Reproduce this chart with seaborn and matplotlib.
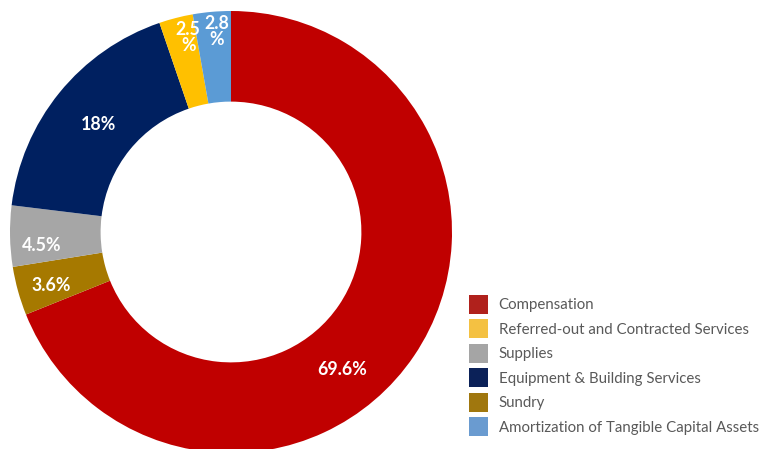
import numpy as np
import matplotlib
matplotlib.use("Agg")
import matplotlib.pyplot as plt
from matplotlib.patches import Patch
import seaborn as sns

# Expense categories, in the order they run clockwise from 12 o'clock
categories = [
    "Compensation",
    "Sundry",
    "Supplies",
    "Equipment & Building Services",
    "Referred-out and Contracted Services",
    "Amortization of Tangible Capital Assets",
]
shares = [69.6, 3.6, 4.5, 18, 2.5, 2.8]
value_labels = ["69.6%", "3.6%", "4.5%", "18%", "2.5\n%", "2.8\n%"]

# Legend lists the categories in a different order
legend_order = [
    "Compensation",
    "Referred-out and Contracted Services",
    "Supplies",
    "Equipment & Building Services",
    "Sundry",
    "Amortization of Tangible Capital Assets",
]

wedge_colors = {
    "Compensation": "#C00000",
    "Sundry": "#A67900",
    "Supplies": "#A6A6A6",
    "Equipment & Building Services": "#002060",
    "Referred-out and Contracted Services": "#FFC000",
    "Amortization of Tangible Capital Assets": "#5B9BD5",
}
swatch_colors = {
    "Compensation": "#B0211C",
    "Sundry": "#A0770E",
    "Supplies": "#A5A5A5",
    "Equipment & Building Services": "#0B2158",
    "Referred-out and Contracted Services": "#F4C142",
    "Amortization of Tangible Capital Assets": "#6A9BD0",
}

# Label placement: radial distance (fraction of outer radius) and angular nudge (deg)
label_radius = [0.80, 0.85, 0.86, 0.77, 0.90, 0.91]
label_nudge = [-17, 1, 3, 0, -2, -1]

sns.set_theme(style="white")
plt.rcParams["font.family"] = ["Lato", "DejaVu Sans"]

W, H = 759, 449
fig = plt.figure(figsize=(W / 100, H / 100), dpi=100)
ax = fig.add_axes([0, 0, 1, 1])

wedges, _ = ax.pie(
    shares,
    colors=[wedge_colors[c] for c in categories],
    startangle=90,
    counterclock=False,
    radius=1.0,
    wedgeprops=dict(width=0.41, linewidth=0),
)

for w, txt, r, d in zip(wedges, value_labels, label_radius, label_nudge):
    ang = np.deg2rad((w.theta1 + w.theta2) / 2 + d)
    ax.text(r * np.cos(ang), r * np.sin(ang), txt, ha="center", va="center",
            color="white", fontsize=12.8, fontweight="bold", linespacing=0.9)

# Scale so the ring radius is 221 px, centred at (231, 232) from top-left
R = 221.0
cx, cy = 231.0, 232.0
ax.set_xlim(-cx / R, (W - cx) / R)
ax.set_ylim(-(H - cy) / R, cy / R)
ax.set_aspect("auto")
ax.axis("off")

handles = [Patch(facecolor=swatch_colors[c], edgecolor="none") for c in legend_order]
ax.legend(handles, legend_order, loc="upper left",
          bbox_to_anchor=(469 / W, 1 - 294.5 / H), frameon=False,
          fontsize=10.8, labelcolor="#595959",
          handlelength=1.3, handleheight=1.6, handletextpad=0.67,
          labelspacing=0.35, borderpad=0, borderaxespad=0)

fig.savefig("out.png", dpi=100)
